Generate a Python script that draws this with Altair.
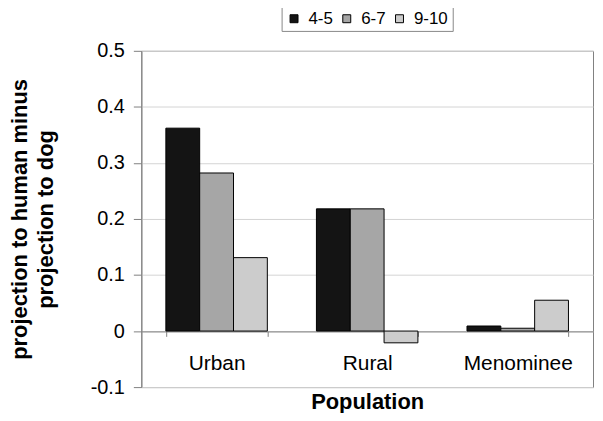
import altair as alt
import pandas as pd

populations = ["Urban", "Rural", "Menominee"]
age_groups = ["4-5", "6-7", "9-10"]
values_4_5 = [0.362, 0.218, 0.009]
values_6_7 = [0.282, 0.218, 0.005]
values_9_10 = [0.131, -0.021, 0.055]
bar_colors = ["#141414", "#a6a6a6", "#cccccc"]
y_ticks = [-0.1, 0, 0.1, 0.2, 0.3, 0.4, 0.5]

rows = []
for series, vals in zip(age_groups, [values_4_5, values_6_7, values_9_10]):
    for pop, v in zip(populations, vals):
        rows.append({"Population": pop, "Age": series, "value": v})
df = pd.DataFrame(rows)

FONT = "Liberation Sans"

bars = alt.Chart(df).mark_bar(stroke="black", strokeWidth=1).encode(
    x=alt.X(
        "Population:N",
        sort=populations,
        scale=alt.Scale(paddingInner=0.326, paddingOuter=0.163),
        axis=alt.Axis(
            title="Population",
            offset=-56,
            labelPadding=16,
            titlePadding=19,
            tickBand="extent",
            tickSize=5,
            tickColor="#808080",
            domainColor="#808080",
            labelAngle=0,
            labelFontSize=21,
            titleFontSize=22,
            titleFontWeight="bold",
            labelFont=FONT,
            titleFont=FONT,
            labelColor="black",
            titleColor="black",
            grid=False,
        ),
    ),
    xOffset=alt.XOffset("Age:N", sort=age_groups, scale=alt.Scale(paddingInner=0, paddingOuter=0)),
    y=alt.Y(
        "value:Q",
        scale=alt.Scale(domain=[-0.1, 0.5], nice=False, zero=False),
        axis=alt.Axis(
            title=["projection to human minus", "projection to dog"],
            values=y_ticks,
            labelExpr="'' + datum.value",
            labelFontSize=20,
            titleFontSize=22,
            titleFontWeight="bold",
            titleLineHeight=26,
            labelFont=FONT,
            titleFont=FONT,
            labelColor="black",
            titleColor="black",
            tickSize=8,
            tickColor="#808080",
            domainColor="#808080",
            gridColor="#d4d4d4",
            labelPadding=9,
            titlePadding=33,
        ),
    ),
    color=alt.Color(
        "Age:N",
        sort=age_groups,
        scale=alt.Scale(domain=age_groups, range=bar_colors),
        legend=alt.Legend(
            title=None,
            orient="none",
            direction="horizontal",
            columns=3,
            legendX=141,
            legendY=-45,
            symbolType="square",
            symbolSize=64,
            symbolStrokeColor="black",
            symbolStrokeWidth=1,
            labelFontSize=17,
            labelFont=FONT,
            labelColor="black",
            strokeColor="#888888",
            padding=4,
            columnPadding=5,
            labelOffset=6,
        ),
    ),
)

chart = bars.properties(
    width=454,
    height=338,
    autosize=alt.AutoSizeParams(type="none"),
    padding={"left": 134, "top": 42, "right": 2, "bottom": 25},
).configure_view(stroke="#808080", strokeWidth=1)

chart.save("out.html", embed_options={"renderer": "svg", "actions": False})
